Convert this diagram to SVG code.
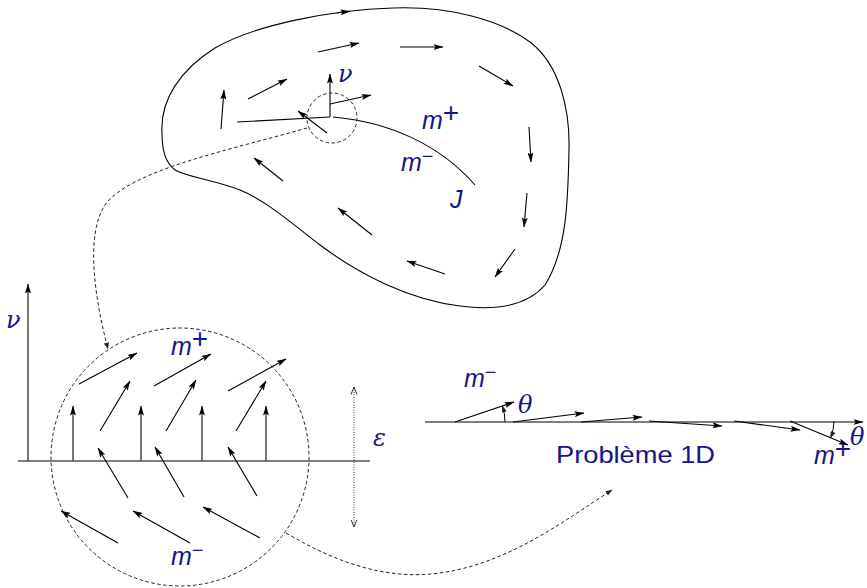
<svg xmlns="http://www.w3.org/2000/svg" width="867" height="588" viewBox="0 0 867 588">
<style>
.ln{fill:none;stroke:#000;stroke-width:1.1}
.ar{fill:none;stroke:#000;stroke-width:1.1;marker-end:url(#ah)}
.gr{fill:none;stroke:#555;stroke-width:1.6;marker-end:url(#ah)}
.dash{fill:none;stroke:#222;stroke-width:1;stroke-dasharray:3.5 2.5}
.lab{font-family:"Liberation Sans",Arial,sans-serif;font-style:italic;fill:#14148c;font-size:25px}
.gk{font-family:"DejaVu Serif","Liberation Serif",serif;font-style:italic;fill:#14148c;font-size:24px}
.sup{font-style:normal;font-size:28px}
.sub{font-style:normal;font-size:20px}
.txt{font-family:"Liberation Sans",Arial,sans-serif;fill:#14148c;font-size:24px}
</style>
<defs>
<marker id="ah" viewBox="0 0 10 6" refX="9.5" refY="3" markerWidth="10" markerHeight="6" markerUnits="userSpaceOnUse" orient="auto"><path d="M0,0 L10,3 L0,6 L2,3 z" fill="#000"/></marker>
<marker id="ahs" viewBox="0 0 8 6" refX="7.5" refY="3" markerWidth="7" markerHeight="5" markerUnits="userSpaceOnUse" orient="auto"><path d="M0,0 L8,3 L0,6 z" fill="#222"/></marker>
<marker id="av" viewBox="0 0 8 8" refX="7.5" refY="4" markerWidth="8" markerHeight="8" markerUnits="userSpaceOnUse" orient="auto-start-reverse"><path d="M0,1 L7.5,4 L0,7" fill="none" stroke="#333" stroke-width="1"/></marker>
</defs>
<rect width="867" height="588" fill="#fff"/>

<g id="domain">
<path class="ln" d="M162,133 C160,100 180,70 215,48 C255,25 330,10 393,8 C450,6 500,20 530,42 C560,65 570,110 569,150 C568,200 567,250 545,285 C525,308 490,310 460,306 C410,300 360,275 320,245 C290,222 265,200 240,190 C215,180 190,178 175,170 C165,162 162,150 162,133 Z"/>
<path class="ar" d="M337,12.8 L350,11.3"/>
<path class="ar" d="M318,52 L359,43"/>
<path class="ar" d="M400,47 L443,47"/>
<path class="ar" d="M479,66 L513,86"/>
<path class="ar" d="M529,127 L531,162"/>
<path class="ar" d="M527,193 L524,227"/>
<path class="ar" d="M515,249 L495,277"/>
<path class="ar" d="M445,274 L407,261"/>
<path class="ar" d="M372,235 L338,208"/>
<path class="ar" d="M283,181 L254,158"/>
<path class="ar" d="M221,129 L224,90"/>
<path class="ar" d="M248,99 L287,79"/>
<path class="ar" d="M327,133 L298,111"/>
<path class="ar" d="M330,117 L330,74"/>
<path class="ar" d="M330,104 L371,95"/>
<path class="ln" d="M237,122 L330,117"/>
<path class="ln" d="M333,117 C390,122 440,145 475,185"/>
<circle class="dash" cx="332" cy="118" r="25"/>
<text class="gk" x="338" y="82">ν</text>
<text class="lab" x="422" y="129">m<tspan class="sup" dy="-7">+</tspan></text>
<text class="lab" x="401" y="171">m<tspan class="sub" dy="-8">−</tspan></text>
<text class="lab" x="450" y="208">J</text>
</g>

<g id="zoom">
<circle class="dash" cx="180" cy="457" r="129"/>
<path class="ln" d="M18,461 L370,461"/>
<path class="gr" d="M28,461 L28,284"/>
<path class="gr" d="M73,461 L73,406"/>
<path class="gr" d="M141,461 L141,406"/>
<path class="gr" d="M202,461 L202,406"/>
<path class="gr" d="M266,461 L266,406"/>
<path class="ar" d="M100,431 L130,381"/>
<path class="ar" d="M166,431 L196,380"/>
<path class="ar" d="M236,431 L266,381"/>
<path class="ar" d="M79,384 L137,353"/>
<path class="ar" d="M154,386 L211,354"/>
<path class="ar" d="M228,391 L286,359"/>
<path class="ar" d="M128,498 L98,448"/>
<path class="ar" d="M184,497 L155,447"/>
<path class="ar" d="M257,496 L228,447"/>
<path class="ar" d="M118,543 L61,511"/>
<path class="ar" d="M190,543 L133,511"/>
<path class="ar" d="M260,538 L203,507"/>
<path d="M354,387 L354,527" fill="none" stroke="#333" stroke-width="1" stroke-dasharray="1 1.5" marker-start="url(#av)" marker-end="url(#av)"/>
<text class="gk" x="6" y="328">ν</text>
<text class="gk" x="373" y="446">ε</text>
<text class="lab" x="171" y="355">m<tspan class="sup" dy="-7">+</tspan></text>
<text class="lab" x="171" y="565">m<tspan class="sub" dy="-8">−</tspan></text>
</g>

<g id="problem1d">
<path class="ar" d="M425,422 L863,422"/>
<path class="ar" d="M455,422 L514,402"/>
<path class="ar" d="M513,422 L584,413"/>
<path class="ar" d="M581,422 L642,417"/>
<path class="ar" d="M649,421 L722,426"/>
<path class="ar" d="M734,421 L800,430"/>
<path class="ar" d="M790,421 L848,445"/>
<path d="M505,422 A50,50 0 0 0 502.4,406" fill="none" stroke="#000" stroke-width="1" marker-end="url(#ahs)"/>
<path d="M834,421 A44,44 0 0 1 830.6,437.8" fill="none" stroke="#000" stroke-width="1" marker-end="url(#ahs)"/>
<text class="lab" x="464" y="387">m<tspan class="sub" dy="-8">−</tspan></text>
<text class="gk" x="518" y="413">θ</text>
<text class="gk" x="850" y="445">θ</text>
<text class="lab" x="814" y="464" font-size="23">m<tspan class="sup" dy="-6" font-size="26">+</tspan></text>
<text class="txt" x="556" y="463" textLength="159" lengthAdjust="spacingAndGlyphs">Problème 1D</text>
</g>

<g id="connectors">
<path class="dash" d="M307,128 C230,150 130,170 105,205 C85,235 95,300 108,349" marker-end="url(#ahs)"/>
<path class="dash" d="M286,533 C340,565 390,580 440,573 C510,563 565,520 612,490" marker-end="url(#ahs)"/>
</g>
</svg>
